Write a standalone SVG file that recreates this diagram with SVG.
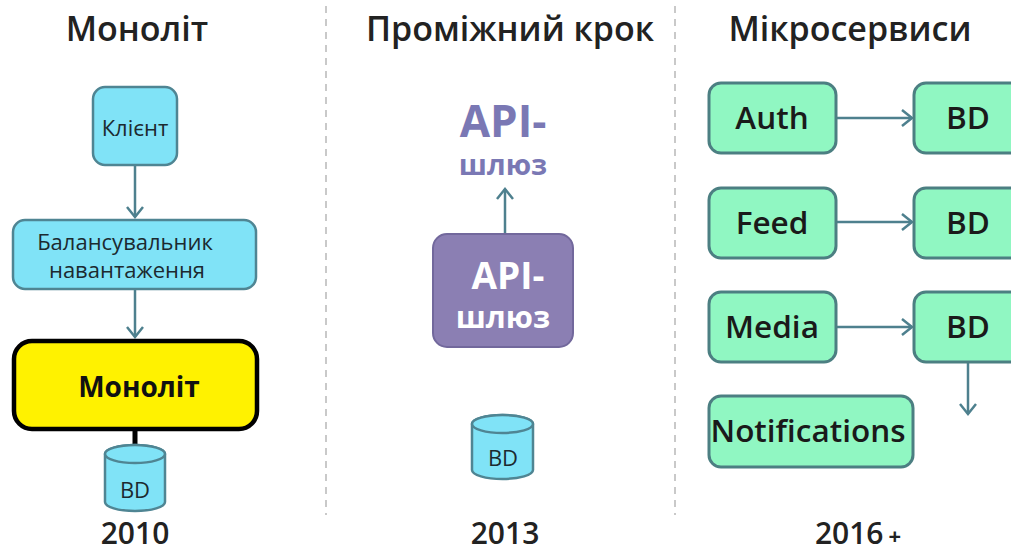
<svg xmlns="http://www.w3.org/2000/svg" width="1011" height="552" viewBox="0 0 1011 552">
<style>
.title{font-family:"Open Sans","Liberation Sans",sans-serif;font-weight:600;font-size:34px;fill:#222;text-anchor:middle}
.year{font-family:"Open Sans","Liberation Sans",sans-serif;font-weight:600;font-size:30px;fill:#222;text-anchor:middle}
.cyan{fill:#80e3f7;stroke:#4f8593;stroke-width:2.5}
.green{fill:#90f7c2;stroke:#4c7f82;stroke-width:3}
.lbl{font-family:"Open Sans","Liberation Sans",sans-serif;font-size:22px;fill:#1c2a30;text-anchor:middle}
.glbl{font-family:"Open Sans","Liberation Sans",sans-serif;font-weight:600;font-size:31.5px;fill:#1a1a1a;text-anchor:middle}
.conn{stroke:#4e808e;stroke-width:2.5;fill:none}
.div{stroke:#c9c9c9;stroke-width:2;stroke-dasharray:7 6}
</style>
<defs>
<marker id="arr" viewBox="0 0 14 18" refX="12" refY="9" markerWidth="14" markerHeight="18" markerUnits="userSpaceOnUse" orient="auto">
<path d="M2,1 L12,9 L2,17" fill="none" stroke="#4e808e" stroke-width="2.5"/>
</marker>
</defs>
<rect width="1011" height="552" fill="#ffffff"/>
<g id="dividers">
<line class="div" x1="326" y1="6" x2="326" y2="515"/>
<line class="div" x1="675" y1="6" x2="675" y2="515"/>
</g>
<g id="titles">
<text class="title" x="137" y="41">Моноліт</text>
<text class="title" x="510" y="41">Проміжний крок</text>
<text class="title" x="850" y="41">Мікросервиси</text>
<text class="year" x="135" y="544">2010</text>
<text class="year" x="505" y="544">2013</text>
<text class="year" x="858" y="544">2016<tspan font-size="22" font-weight="700" dx="5">+</tspan></text>
</g>
<g id="connectors">
<line class="conn" x1="135" y1="165" x2="135" y2="217" marker-end="url(#arr)"/>
<line class="conn" x1="135" y1="289" x2="135" y2="337" marker-end="url(#arr)"/>
<line x1="135" y1="430" x2="135" y2="447" stroke="#000" stroke-width="5"/>
<line class="conn" x1="505" y1="233" x2="505" y2="189" marker-end="url(#arr)"/>
<line class="conn" x1="837" y1="118" x2="912" y2="118" marker-end="url(#arr)"/>
<line class="conn" x1="837" y1="222" x2="912" y2="222" marker-end="url(#arr)"/>
<line class="conn" x1="837" y1="327" x2="912" y2="327" marker-end="url(#arr)"/>
<line class="conn" x1="968" y1="362" x2="968" y2="414" marker-end="url(#arr)"/>
</g>
<g id="client">
<rect class="cyan" x="93" y="87" width="84" height="78" rx="12"/>
<text class="lbl" x="135" y="136">Клієнт</text>
</g>
<g id="balancer">
<rect class="cyan" x="13" y="220" width="243" height="69" rx="12"/>
<text class="lbl" x="125" y="250">Балансувальник</text>
<text class="lbl" x="127" y="278">навантаження</text>
</g>
<g id="monolith">
<rect x="14" y="341" width="243" height="88" rx="18" fill="#fff200" stroke="#000" stroke-width="4.5"/>
<text x="139" y="397" font-family="Open Sans, Liberation Sans, sans-serif" font-weight="700" font-size="28" fill="#111" text-anchor="middle">Моноліт</text>
</g>
<g id="db-monolith">
<path class="cyan" d="M105,454 L105,502 A30,9 0 0,0 165,502 L165,454 A30,9 0 0,0 105,454 Z"/>
<ellipse class="cyan" cx="135" cy="454" rx="30" ry="9"/>
<text class="lbl" x="135" y="498" font-size="20">BD</text>
</g>
<g id="api-label">
<text x="503" y="137" font-family="Open Sans, Liberation Sans, sans-serif" font-weight="700" font-size="44" fill="#7a78b4" text-anchor="middle">API-</text>
<text x="503" y="175" font-family="Open Sans, Liberation Sans, sans-serif" font-weight="700" font-size="29" fill="#7a78b4" text-anchor="middle">шлюз</text>
</g>
<g id="api-gateway">
<rect x="433" y="234" width="140" height="113" rx="14" fill="#8b7fb3" stroke="#72689c" stroke-width="2"/>
<text x="508" y="289" font-family="Open Sans, Liberation Sans, sans-serif" font-weight="700" font-size="37" fill="#ffffff" text-anchor="middle">API-</text>
<text x="503" y="328" font-family="Open Sans, Liberation Sans, sans-serif" font-weight="700" font-size="31" fill="#ffffff" text-anchor="middle">шлюз</text>
</g>
<g id="db-middle">
<path class="cyan" d="M472,424 L472,470 A30.5,9 0 0,0 533,470 L533,424 A30.5,9 0 0,0 472,424 Z"/>
<ellipse class="cyan" cx="502.5" cy="424" rx="30.5" ry="9"/>
<text class="lbl" x="503" y="466" font-size="20">BD</text>
</g>
<g id="auth">
<rect class="green" x="709" y="83" width="127" height="70" rx="12"/>
<text class="glbl" x="772" y="129">Auth</text>
</g>
<g id="auth-db">
<rect class="green" x="914" y="83" width="120" height="70" rx="12"/>
<text class="glbl" x="968" y="129" font-size="33">BD</text>
</g>
<g id="feed">
<rect class="green" x="709" y="188" width="127" height="70" rx="12"/>
<text class="glbl" x="772" y="234">Feed</text>
</g>
<g id="feed-db">
<rect class="green" x="914" y="188" width="120" height="70" rx="12"/>
<text class="glbl" x="968" y="234" font-size="33">BD</text>
</g>
<g id="media">
<rect class="green" x="709" y="292" width="127" height="70" rx="12"/>
<text class="glbl" x="772" y="338">Media</text>
</g>
<g id="media-db">
<rect class="green" x="914" y="292" width="120" height="70" rx="12"/>
<text class="glbl" x="968" y="338" font-size="33">BD</text>
</g>
<g id="notifications">
<rect class="green" x="709" y="396" width="204" height="71" rx="12"/>
<text class="glbl" x="808" y="442" font-size="25.5">Notifications</text>
</g>
</svg>
